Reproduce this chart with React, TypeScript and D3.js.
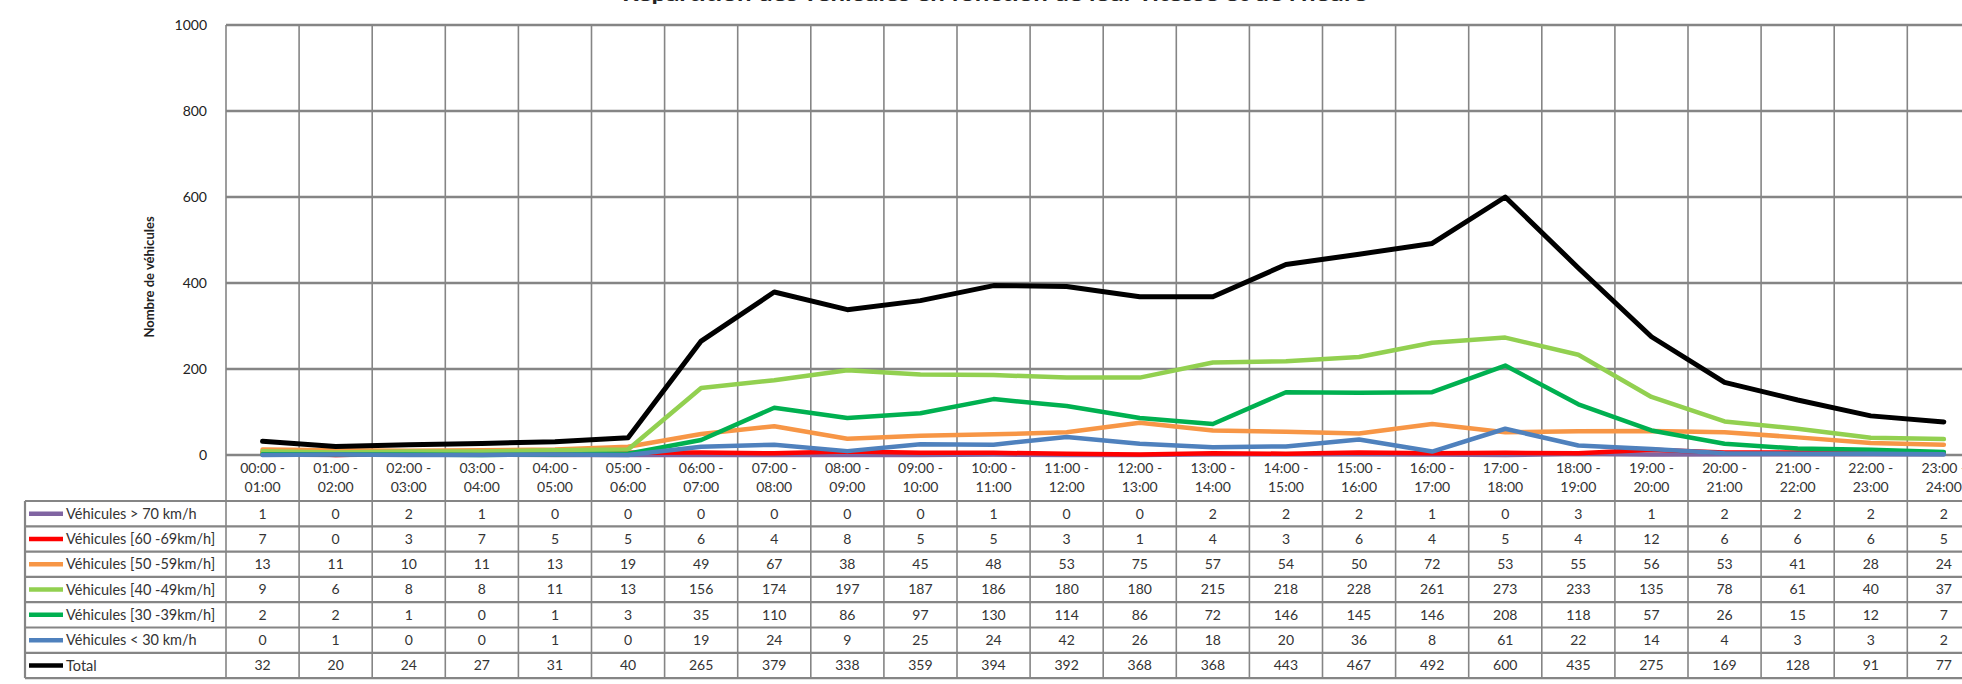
import React from "react";
import * as d3 from "d3";

const categories = [
  "00:00 - 01:00", "01:00 - 02:00", "02:00 - 03:00", "03:00 - 04:00", "04:00 - 05:00", "05:00 - 06:00",
  "06:00 - 07:00", "07:00 - 08:00", "08:00 - 09:00", "09:00 - 10:00", "10:00 - 11:00", "11:00 - 12:00",
  "12:00 - 13:00", "13:00 - 14:00", "14:00 - 15:00", "15:00 - 16:00", "16:00 - 17:00", "17:00 - 18:00",
  "18:00 - 19:00", "19:00 - 20:00", "20:00 - 21:00", "21:00 - 22:00", "22:00 - 23:00", "23:00 - 24:00",
];

const over70 = [1, 0, 2, 1, 0, 0, 0, 0, 0, 0, 1, 0, 0, 2, 2, 2, 1, 0, 3, 1, 2, 2, 2, 2];
const s60to69 = [7, 0, 3, 7, 5, 5, 6, 4, 8, 5, 5, 3, 1, 4, 3, 6, 4, 5, 4, 12, 6, 6, 6, 5];
const s50to59 = [13, 11, 10, 11, 13, 19, 49, 67, 38, 45, 48, 53, 75, 57, 54, 50, 72, 53, 55, 56, 53, 41, 28, 24];
const s40to49 = [9, 6, 8, 8, 11, 13, 156, 174, 197, 187, 186, 180, 180, 215, 218, 228, 261, 273, 233, 135, 78, 61, 40, 37];
const s30to39 = [2, 2, 1, 0, 1, 3, 35, 110, 86, 97, 130, 114, 86, 72, 146, 145, 146, 208, 118, 57, 26, 15, 12, 7];
const under30 = [0, 1, 0, 0, 1, 0, 19, 24, 9, 25, 24, 42, 26, 18, 20, 36, 8, 61, 22, 14, 4, 3, 3, 2];
const total = [32, 20, 24, 27, 31, 40, 265, 379, 338, 359, 394, 392, 368, 368, 443, 467, 492, 600, 435, 275, 169, 128, 91, 77];

const seriesNames = [
  "Véhicules > 70 km/h",
  "Véhicules [60 -69km/h]",
  "Véhicules [50 -59km/h]",
  "Véhicules [40 -49km/h]",
  "Véhicules [30 -39km/h]",
  "Véhicules < 30 km/h",
  "Total",
];
const seriesValues = [over70, s60to69, s50to59, s40to49, s30to39, under30, total];
const seriesColors = ["#8064A2", "#FF0000", "#F79646", "#92D050", "#00B050", "#4F81BD", "#000000"];

const yTicks = [0, 200, 400, 600, 800, 1000];
const title = "Répartition des véhicules en fonction de leur vitesse et de l'heure";
const yTitle = "Nombre de véhicules";

const W = 1962;
const H = 684;
const FONT = "Lato, 'Open Sans', sans-serif";

export default function App() {
  const plotLeft = 226;
  const colW = 73.1;
  const plotRight = plotLeft + colW * categories.length;
  const plotTop = 25;
  const plotBottom = 455;
  const tableLeft = 25;
  const tableTop = 501;
  const rowH = 25.3;
  const tableBottom = tableTop + rowH * seriesNames.length;

  const x = d3.scaleBand<string>().domain(categories).range([plotLeft, plotRight]).padding(0);
  const y = d3.scaleLinear().domain([0, 1000]).range([plotBottom, plotTop]);
  const cx = (i: number) => (x(categories[i]) as number) + x.bandwidth() / 2;

  const line = d3
    .line<number>()
    .x((_, i) => cx(i))
    .y((v) => y(v));

  const gridColor = "#858585";

  return (
    <svg
      width={W}
      height={H}
      style={{ position: "absolute", left: 0, top: 0, background: "#fff" }}
      fontFamily={FONT}
    >
      <rect x={0} y={0} width={W} height={H} fill="#fff" />
      {/* title (cut off at top edge, as in the reference) */}
      <text x={622} y={0.5} fontSize={18} fontWeight="bold" fill="#222" textLength={745} lengthAdjust="spacingAndGlyphs">
        {title}
      </text>

      {/* horizontal gridlines */}
      {yTicks.map((t) => (
        <line key={"h" + t} x1={plotLeft} x2={plotRight} y1={y(t)} y2={y(t)} stroke={gridColor} strokeWidth={2.5} />
      ))}
      {/* vertical gridlines / column borders from plot top through table */}
      {d3.range(categories.length + 1).map((i) => {
        const xx = plotLeft + i * colW;
        return <line key={"v" + i} x1={xx} x2={xx} y1={plotTop} y2={tableBottom} stroke={gridColor} strokeWidth={1.6} />;
      })}

      {/* y tick labels */}
      {yTicks.map((t) => (
        <text key={"yt" + t} x={207} y={y(t)} dy="0.35em" textAnchor="end" fontSize={14} fill="#222">
          {t}
        </text>
      ))}
      {/* y axis title */}
      <text
        transform={`translate(154,277) rotate(-90)`}
        textAnchor="middle"
        fontSize={13}
        fontWeight="bold"
        fill="#222"
      >
        {yTitle}
      </text>

      {/* category labels */}
      {categories.map((c, i) => {
        const [a, b] = c.split(" - ");
        return (
          <text key={"c" + i} x={cx(i)} textAnchor="middle" fontSize={14} fill="#333">
            <tspan x={cx(i)} y={473}>{a + " -"}</tspan>
            <tspan x={cx(i)} y={492}>{b}</tspan>
          </text>
        );
      })}

      {/* table horizontal lines */}
      {d3.range(seriesNames.length + 1).map((r) => (
        <line
          key={"tr" + r}
          x1={tableLeft}
          x2={plotRight}
          y1={tableTop + r * rowH}
          y2={tableTop + r * rowH}
          stroke={gridColor}
          strokeWidth={2.2}
        />
      ))}
      <line x1={tableLeft} x2={tableLeft} y1={tableTop} y2={tableBottom} stroke={gridColor} strokeWidth={2.2} />

      {/* table rows */}
      {seriesNames.map((name, r) => {
        const cy = tableTop + r * rowH + rowH / 2;
        return (
          <g key={"row" + r}>
            <line x1={29} x2={63} y1={cy} y2={cy} stroke={seriesColors[r]} strokeWidth={4.5} />
            <text x={66} y={cy} dy="0.35em" fontSize={14.5} fill="#333">
              {name}
            </text>
            {seriesValues[r].map((v, i) => (
              <text key={i} x={cx(i)} y={cy} dy="0.35em" textAnchor="middle" fontSize={14} fill="#333">
                {v}
              </text>
            ))}
          </g>
        );
      })}

      {/* series lines */}
      {seriesValues.map((vals, s) => (
        <path
          key={"s" + s}
          d={line(vals) as string}
          fill="none"
          stroke={seriesColors[s]}
          strokeWidth={s === 6 ? 5 : 4.5}
          strokeLinejoin="round"
          strokeLinecap="round"
        />
      ))}
    </svg>
  );
}
